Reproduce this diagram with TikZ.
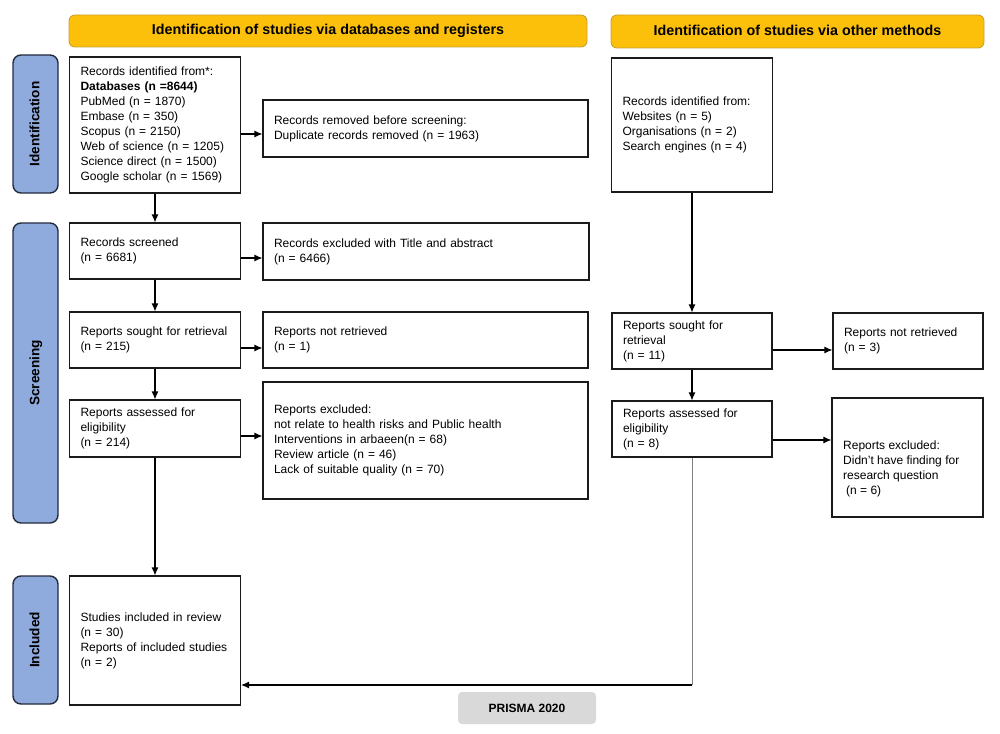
\documentclass[tikz,border=0pt]{standalone}
\usepackage{fontspec}
\setmainfont{Liberation Sans}
\usetikzlibrary{arrows.meta}
\definecolor{hdrfill}{HTML}{FCC00A}
\definecolor{hdrline}{HTML}{C9A032}
\definecolor{sidefill}{HTML}{8FAADC}
\definecolor{sideline}{HTML}{232B3D}
\definecolor{prfill}{HTML}{D9D9D9}
\definecolor{boxline}{HTML}{1A1A1A}
\newcommand{\bodyfnt}{\fontsize{12}{15}\selectfont}
\tikzset{
  flowbox/.style={draw=boxline, line width=1.1pt, fill=white, inner xsep=11pt, inner ysep=1pt,
    align=left, font=\bodyfnt},
  hdr/.style={draw=hdrline, line width=0.9pt, fill=hdrfill, rounded corners=6pt, inner sep=0pt,
    text height=10.5pt, text depth=3pt, font=\fontsize{14.3}{16}\selectfont\bfseries},
  side/.style={draw=sideline, line width=1.4pt, fill=sidefill, rounded corners=8pt, inner sep=0pt,
    text height=10pt, text depth=2.5pt, rotate=90, font=\fontsize{13.6}{15}\selectfont\bfseries},
  arr/.style={draw=black, line width=1.1pt, -{Latex[length=8pt,width=7pt]}},
  thinline/.style={draw=gray, line width=0.8pt},
}
\begin{document}
\begin{tikzpicture}[x=1pt,y=-1pt]
\useasboundingbox (0,0) rectangle (1000,733);
% headers
\node[hdr, minimum width=518pt, minimum height=32pt] (h1) at (328,31) {Identification of studies via databases and registers};
\node[hdr, minimum width=373pt, minimum height=33pt] (h2) at (797.5,31.5) {Identification of studies via other methods};
% side labels
\node[side, minimum width=138pt, minimum height=45pt] (sid) at (35.5,124) {Identification};
\node[side, minimum width=300pt, minimum height=45pt] (sscr) at (35.5,373) {Screening};
\node[side, minimum width=128pt, minimum height=45pt] (sinc) at (35.5,640) {Included};
% left column
\node[flowbox, text width=149pt, minimum height=136pt] (db) at (155,125) {Records identified from*:\\
\textbf{Databases (n =8644)}\\
PubMed (n = 1870)\\
Embase (n = 350)\\
Scopus (n = 2150)\\
Web of science (n = 1205)\\
Science direct (n = 1500)\\
Google scholar (n = 1569)};
\node[flowbox, text width=303pt, minimum height=57pt] (removed) at (425.5,128.5) {Records removed before screening:\\Duplicate records removed (n = 1963)};
\node[flowbox, text width=149pt, minimum height=56pt] (screened) at (155,251) {Records screened\\(n = 6681)};
\node[flowbox, text width=304pt, minimum height=57pt] (excl1) at (426,251.5) {Records excluded with Title and abstract\\(n = 6466)};
\node[flowbox, text width=149pt, minimum height=56pt] (sought) at (155,340) {Reports sought for retrieval\\(n = 215)};
\node[flowbox, text width=303pt, minimum height=56pt] (notret) at (425.5,340) {Reports not retrieved\\(n = 1)};
\node[flowbox, text width=149pt, minimum height=57pt] (assessed) at (155,428.5) {Reports assessed for\\eligibility\\(n = 214)};
\node[flowbox, text width=303pt, minimum height=117pt] (excl) at (425.5,440.5) {Reports excluded:\\
not relate to health risks and Public health\\
Interventions in arbaeen(n = 68)\\
Review article (n = 46)\\
Lack of suitable quality (n = 70)};
\node[flowbox, text width=149pt, minimum height=129pt] (included) at (155,640.5) {Studies included in review\\(n = 30)\\Reports of included studies\\(n = 2)};
% right column
\node[flowbox, text width=139pt, minimum height=134pt] (other) at (692,125) {Records identified from:\\Websites (n = 5)\\Organisations (n = 2)\\Search engines (n = 4)};
\node[flowbox, text width=138pt, minimum height=56pt] (sought2) at (692,341) {Reports sought for\\retrieval\\(n = 11)};
\node[flowbox, text width=128pt, minimum height=56pt] (notret2) at (908,341) {Reports not retrieved\\(n = 3)};
\node[flowbox, text width=138pt, minimum height=56pt] (assessed2) at (692,429) {Reports assessed for\\eligibility\\(n = 8)};
\node[flowbox, text width=129pt, minimum height=119pt] (excl2) at (907.5,457.5) {};
\node[font=\bodyfnt, align=left, anchor=west, inner sep=0pt] (excl2t) at (843,468.5) {Reports excluded:\\Didn't have finding for\\research question\\\hspace{3pt}(n = 6)};
% PRISMA tag
\node[fill=prfill, rounded corners=4pt, minimum width=138pt, minimum height=32pt, inner sep=0pt,
  font=\fontsize{12}{13}\selectfont\bfseries] (prisma) at (527,708) {PRISMA 2020};
% connectors
\draw[arr] (db.south) -- (screened.north);
\draw[arr] (screened.south) -- (sought.north);
\draw[arr] (sought.south) -- (assessed.north);
\draw[arr] (assessed.south) -- (included.north);
\draw[arr] (db.east |- 0,134) -- (removed.west |- 0,134);
\draw[arr] (screened.east |- 0,258) -- (excl1.west |- 0,258);
\draw[arr] (sought.east |- 0,348) -- (notret.west |- 0,348);
\draw[arr] (assessed.east |- 0,436) -- (excl.west |- 0,436);
\draw[arr] (other.south) -- (sought2.north);
\draw[arr] (sought2.south) -- (assessed2.north);
\draw[arr] (sought2.east |- 0,350) -- (notret2.west |- 0,350);
\draw[arr] (assessed2.east |- 0,440) -- (excl2.west |- 0,440);
\coordinate (turn) at (692,685);
\draw[thinline] (assessed2.south) -- (turn);
\draw[arr] (turn) -- (included.east |- turn);
\end{tikzpicture}
\end{document}
